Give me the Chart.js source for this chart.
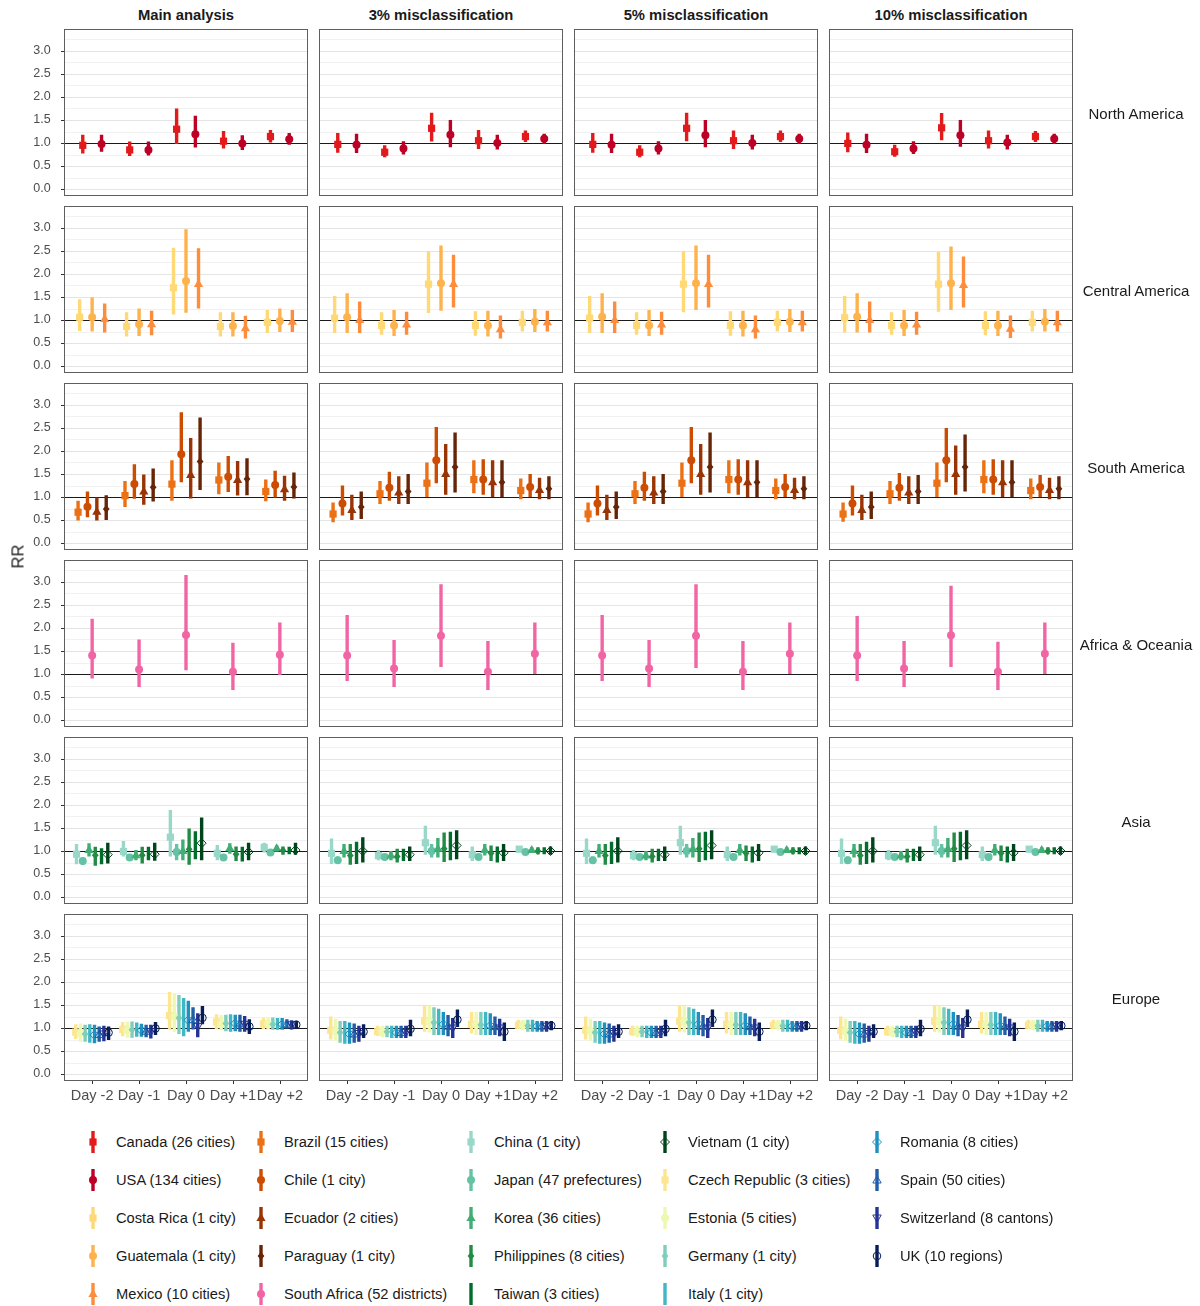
<!DOCTYPE html>
<html>
<head>
<meta charset="utf-8">
<script src="https://cdn.jsdelivr.net/npm/chart.js@4.4.1/dist/chart.umd.min.js"></script>
<style>
  html, body { margin: 0; padding: 0; background: #ffffff; }
  #wrap { position: relative; width: 1200px; height: 1306px; overflow: hidden;
          font-family: "Liberation Sans", Arial, sans-serif; color: #1a1a1a; }
  .ctitle { position: absolute; top: 7px; width: 244px; text-align: center;
            font-weight: bold; font-size: 14.8px; line-height: 17px; }
  .rtitle { position: absolute; left: 1066px; width: 140px; text-align: center;
            font-size: 15px; line-height: 17px; }
  .ytitle { position: absolute; left: -2px; top: 547px; width: 40px; text-align: center;
            font-size: 16.5px; transform: rotate(-90deg); }
  .lgitem { position: absolute; height: 30px; }
  .lgitem canvas { position: absolute; left: 0; top: 0; }
  .lgitem span { position: absolute; left: 34px; top: 6px; font-size: 14.7px; line-height: 18px; white-space: nowrap; }
</style>
</head>
<body>
<div id="wrap"></div>
<script>
// ---- categories ----
const days = ['Day -2', 'Day -1', 'Day 0', 'Day +1', 'Day +2'];
const analyses = ['Main analysis', '3% misclassification', '5% misclassification', '10% misclassification'];
const regions = ['North America', 'Central America', 'South America', 'Africa & Oceania', 'Asia', 'Europe'];

// ---- RR estimates: [analysis][day] = [RR, lower CI, upper CI] ----
const canada = [
  [[0.95,0.77,1.18],[0.85,0.72,1.03],[1.30,0.98,1.75],[1.04,0.88,1.26],[1.14,1.01,1.28]],
  [[0.97,0.79,1.22],[0.80,0.69,0.95],[1.32,1.03,1.66],[1.05,0.87,1.28],[1.14,1.02,1.27]],
  [[0.97,0.79,1.22],[0.80,0.69,0.95],[1.32,1.04,1.66],[1.05,0.87,1.27],[1.14,1.02,1.27]],
  [[0.99,0.80,1.23],[0.81,0.70,0.96],[1.33,1.06,1.65],[1.05,0.88,1.27],[1.14,1.02,1.26]]
];
const usa = [
  [[0.98,0.81,1.18],[0.85,0.73,1.03],[1.19,0.90,1.59],[0.99,0.85,1.17],[1.08,0.96,1.22]],
  [[0.96,0.78,1.20],[0.88,0.75,1.04],[1.18,0.91,1.50],[1.00,0.86,1.18],[1.09,0.98,1.20]],
  [[0.96,0.78,1.20],[0.88,0.75,1.04],[1.17,0.91,1.50],[1.00,0.86,1.18],[1.09,0.98,1.20]],
  [[0.96,0.78,1.20],[0.88,0.76,1.04],[1.17,0.92,1.50],[1.01,0.86,1.18],[1.09,0.98,1.20]]
];
const costaRica = [
  [[1.06,0.76,1.45],[0.86,0.64,1.17],[1.70,1.12,2.57],[0.86,0.64,1.17],[0.95,0.72,1.22]],
  [[1.04,0.72,1.52],[0.88,0.68,1.17],[1.78,1.15,2.50],[0.88,0.66,1.19],[0.95,0.75,1.20]],
  [[1.04,0.72,1.52],[0.88,0.68,1.17],[1.78,1.17,2.50],[0.88,0.66,1.19],[0.95,0.75,1.20]],
  [[1.05,0.73,1.52],[0.88,0.68,1.17],[1.78,1.18,2.48],[0.88,0.67,1.19],[0.95,0.75,1.20]]
];
const guatemala = [
  [[1.06,0.75,1.49],[0.91,0.65,1.25],[1.85,1.16,2.97],[0.87,0.64,1.17],[0.98,0.74,1.25]],
  [[1.06,0.72,1.58],[0.88,0.65,1.22],[1.80,1.20,2.62],[0.88,0.64,1.20],[0.96,0.74,1.24]],
  [[1.07,0.72,1.58],[0.88,0.65,1.22],[1.80,1.22,2.62],[0.88,0.64,1.20],[0.96,0.74,1.24]],
  [[1.07,0.73,1.58],[0.88,0.65,1.22],[1.80,1.22,2.60],[0.88,0.65,1.20],[0.96,0.75,1.24]]
];
const mexico = [
  [[1.02,0.73,1.36],[0.91,0.67,1.20],[1.78,1.25,2.56],[0.82,0.60,1.09],[0.96,0.74,1.22]],
  [[1.00,0.72,1.40],[0.90,0.68,1.18],[1.78,1.27,2.42],[0.80,0.60,1.10],[0.95,0.75,1.20]],
  [[1.00,0.72,1.40],[0.90,0.68,1.18],[1.78,1.27,2.42],[0.80,0.60,1.10],[0.95,0.75,1.20]],
  [[1.00,0.73,1.40],[0.90,0.68,1.18],[1.76,1.27,2.38],[0.81,0.61,1.10],[0.95,0.75,1.20]]
];
const brazil = [
  [[0.67,0.49,0.92],[1.03,0.78,1.35],[1.28,0.92,1.80],[1.37,1.06,1.75],[1.12,0.91,1.38]],
  [[0.63,0.45,0.88],[1.07,0.85,1.35],[1.30,1.00,1.75],[1.38,1.08,1.80],[1.14,0.95,1.40]],
  [[0.63,0.45,0.88],[1.07,0.85,1.35],[1.30,1.00,1.75],[1.38,1.08,1.80],[1.14,0.95,1.40]],
  [[0.63,0.46,0.88],[1.07,0.85,1.35],[1.30,1.00,1.75],[1.38,1.08,1.80],[1.14,0.95,1.40]]
];
const chile = [
  [[0.79,0.56,1.12],[1.28,0.96,1.71],[1.93,1.32,2.84],[1.44,1.11,1.89],[1.26,0.99,1.57]],
  [[0.86,0.60,1.25],[1.20,0.92,1.55],[1.80,1.30,2.52],[1.38,1.05,1.82],[1.22,1.00,1.50]],
  [[0.86,0.60,1.25],[1.20,0.92,1.55],[1.80,1.30,2.52],[1.38,1.05,1.82],[1.22,1.00,1.50]],
  [[0.86,0.60,1.25],[1.20,0.92,1.52],[1.80,1.32,2.50],[1.38,1.05,1.82],[1.22,1.00,1.48]]
];
const ecuador = [
  [[0.68,0.49,0.99],[1.12,0.83,1.49],[1.48,0.97,2.28],[1.37,1.03,1.78],[1.17,0.92,1.46]],
  [[0.72,0.50,1.05],[1.10,0.85,1.45],[1.50,1.05,2.15],[1.32,1.00,1.80],[1.15,0.95,1.42]],
  [[0.72,0.50,1.05],[1.10,0.85,1.45],[1.50,1.05,2.15],[1.32,1.00,1.80],[1.15,0.95,1.42]],
  [[0.72,0.50,1.05],[1.10,0.85,1.45],[1.50,1.05,2.12],[1.32,1.00,1.80],[1.15,0.95,1.42]]
];
const paraguay = [
  [[0.74,0.50,1.04],[1.21,0.90,1.62],[1.77,1.15,2.73],[1.39,1.04,1.84],[1.22,0.97,1.53]],
  [[0.78,0.52,1.12],[1.12,0.85,1.50],[1.65,1.10,2.40],[1.32,1.00,1.80],[1.18,0.95,1.45]],
  [[0.78,0.52,1.12],[1.12,0.85,1.50],[1.65,1.10,2.40],[1.32,1.00,1.80],[1.18,0.95,1.45]],
  [[0.78,0.52,1.12],[1.12,0.85,1.48],[1.65,1.12,2.36],[1.32,1.00,1.80],[1.18,0.95,1.45]]
];
const southAfrica = [
  [[1.40,0.90,2.20],[1.10,0.72,1.75],[1.85,1.08,3.15],[1.05,0.65,1.68],[1.42,0.98,2.12]],
  [[1.40,0.85,2.28],[1.12,0.72,1.74],[1.83,1.15,2.95],[1.05,0.65,1.72],[1.44,1.00,2.12]],
  [[1.40,0.85,2.28],[1.12,0.72,1.74],[1.83,1.13,2.95],[1.05,0.65,1.72],[1.44,1.00,2.12]],
  [[1.40,0.85,2.26],[1.12,0.72,1.72],[1.84,1.15,2.92],[1.05,0.65,1.70],[1.44,1.00,2.12]]
];
const china = [
  [[0.93,0.71,1.15],[0.99,0.88,1.22],[1.30,0.88,1.89],[0.95,0.80,1.13],[1.08,0.97,1.18]],
  [[0.95,0.72,1.27],[0.90,0.80,1.02],[1.18,0.92,1.55],[0.92,0.78,1.10],[1.04,0.97,1.10]],
  [[0.95,0.72,1.27],[0.90,0.80,1.02],[1.18,0.92,1.55],[0.92,0.78,1.10],[1.04,0.97,1.10]],
  [[0.95,0.72,1.27],[0.90,0.80,1.02],[1.18,0.92,1.55],[0.92,0.78,1.10],[1.04,0.97,1.10]]
];
const japan = [
  [[0.78,0.70,0.86],[0.86,0.80,0.92],[0.98,0.80,1.15],[0.86,0.79,0.93],[0.97,0.92,1.02]],
  [[0.80,0.73,0.88],[0.87,0.82,0.93],[1.00,0.86,1.15],[0.87,0.80,0.94],[0.98,0.94,1.02]],
  [[0.80,0.73,0.88],[0.87,0.82,0.93],[1.00,0.86,1.15],[0.87,0.80,0.94],[0.98,0.94,1.02]],
  [[0.80,0.73,0.88],[0.87,0.82,0.93],[1.00,0.86,1.15],[0.87,0.80,0.94],[0.98,0.94,1.02]]
];
const korea = [
  [[1.02,0.88,1.17],[0.91,0.80,1.02],[1.00,0.80,1.25],[1.06,0.94,1.17],[1.06,0.99,1.12]],
  [[1.00,0.86,1.15],[0.90,0.80,1.00],[1.05,0.86,1.28],[1.02,0.90,1.15],[1.02,0.96,1.08]],
  [[1.00,0.86,1.15],[0.90,0.80,1.00],[1.05,0.86,1.28],[1.02,0.90,1.15],[1.02,0.96,1.08]],
  [[1.00,0.86,1.15],[0.90,0.80,1.00],[1.05,0.86,1.28],[1.02,0.90,1.15],[1.02,0.96,1.08]]
];
const philippines = [
  [[0.91,0.68,1.09],[0.91,0.73,1.09],[1.04,0.70,1.49],[0.93,0.78,1.10],[1.01,0.92,1.10]],
  [[0.90,0.70,1.15],[0.88,0.75,1.05],[1.05,0.76,1.40],[0.95,0.78,1.12],[1.00,0.93,1.08]],
  [[0.90,0.70,1.15],[0.88,0.75,1.05],[1.05,0.76,1.40],[0.95,0.78,1.12],[1.00,0.93,1.08]],
  [[0.90,0.70,1.15],[0.88,0.75,1.05],[1.05,0.76,1.40],[0.95,0.78,1.12],[1.00,0.93,1.08]]
];
const taiwan = [
  [[0.88,0.71,1.06],[0.93,0.80,1.09],[1.10,0.82,1.43],[0.93,0.77,1.09],[1.01,0.93,1.09]],
  [[0.93,0.72,1.20],[0.90,0.78,1.05],[1.10,0.80,1.42],[0.93,0.75,1.10],[1.00,0.93,1.08]],
  [[0.93,0.72,1.20],[0.90,0.78,1.05],[1.10,0.80,1.42],[0.93,0.75,1.10],[1.00,0.93,1.08]],
  [[0.93,0.72,1.20],[0.90,0.78,1.05],[1.10,0.80,1.42],[0.93,0.75,1.10],[1.00,0.93,1.08]]
];
const vietnam = [
  [[0.92,0.73,1.18],[0.93,0.79,1.18],[1.17,0.80,1.73],[0.98,0.80,1.18],[1.02,0.92,1.18]],
  [[1.00,0.75,1.30],[0.92,0.78,1.10],[1.12,0.82,1.45],[0.96,0.78,1.15],[1.00,0.92,1.10]],
  [[1.00,0.75,1.30],[0.92,0.78,1.10],[1.12,0.82,1.45],[0.96,0.78,1.15],[1.00,0.92,1.10]],
  [[1.00,0.75,1.30],[0.92,0.78,1.10],[1.12,0.82,1.45],[0.96,0.78,1.15],[1.00,0.92,1.10]]
];
const czech = [
  [[0.91,0.76,1.08],[0.97,0.82,1.13],[1.27,0.96,1.78],[1.13,0.97,1.30],[1.09,0.98,1.22]],
  [[0.95,0.75,1.25],[0.92,0.83,1.05],[1.15,0.92,1.48],[1.08,0.88,1.35],[1.06,0.98,1.18]],
  [[0.95,0.75,1.25],[0.92,0.83,1.05],[1.15,0.92,1.48],[1.08,0.88,1.35],[1.06,0.98,1.18]],
  [[0.95,0.75,1.25],[0.92,0.83,1.05],[1.15,0.92,1.48],[1.08,0.88,1.35],[1.06,0.98,1.18]]
];
const estonia = [
  [[0.88,0.70,1.10],[0.95,0.79,1.14],[1.25,0.92,1.75],[1.08,0.95,1.28],[1.09,0.97,1.22]],
  [[0.93,0.72,1.20],[0.92,0.80,1.05],[1.14,0.90,1.48],[1.07,0.85,1.35],[1.06,0.95,1.18]],
  [[0.93,0.72,1.20],[0.92,0.80,1.05],[1.14,0.90,1.48],[1.07,0.85,1.35],[1.06,0.95,1.18]],
  [[0.93,0.72,1.20],[0.92,0.80,1.05],[1.14,0.90,1.48],[1.07,0.85,1.35],[1.06,0.95,1.18]]
];
const germany = [
  [[0.87,0.70,1.07],[0.96,0.79,1.14],[1.22,0.87,1.72],[1.10,0.93,1.29],[1.08,0.96,1.23]],
  [[0.90,0.68,1.15],[0.92,0.80,1.05],[1.12,0.85,1.45],[1.07,0.85,1.35],[1.05,0.92,1.18]],
  [[0.90,0.68,1.15],[0.92,0.80,1.05],[1.12,0.85,1.45],[1.07,0.85,1.35],[1.05,0.92,1.18]],
  [[0.90,0.68,1.15],[0.92,0.80,1.05],[1.12,0.85,1.45],[1.07,0.85,1.35],[1.05,0.92,1.18]]
];
const italy = [
  [[0.87,0.68,1.08],[0.94,0.81,1.12],[1.18,0.82,1.65],[1.10,0.92,1.30],[1.08,0.96,1.22]],
  [[0.88,0.66,1.15],[0.90,0.78,1.05],[1.10,0.85,1.42],[1.06,0.85,1.35],[1.05,0.92,1.18]],
  [[0.88,0.66,1.15],[0.90,0.78,1.05],[1.10,0.85,1.42],[1.06,0.85,1.35],[1.05,0.92,1.18]],
  [[0.88,0.66,1.15],[0.90,0.78,1.05],[1.10,0.85,1.42],[1.06,0.85,1.35],[1.05,0.92,1.18]]
];
const romania = [
  [[0.85,0.67,1.07],[0.95,0.81,1.09],[1.17,0.92,1.59],[1.10,0.93,1.29],[1.08,0.96,1.22]],
  [[0.87,0.66,1.12],[0.90,0.78,1.05],[1.08,0.85,1.35],[1.05,0.85,1.32],[1.04,0.92,1.15]],
  [[0.87,0.66,1.12],[0.90,0.78,1.05],[1.08,0.85,1.35],[1.05,0.85,1.32],[1.04,0.92,1.15]],
  [[0.87,0.66,1.12],[0.90,0.78,1.05],[1.08,0.85,1.35],[1.05,0.85,1.32],[1.04,0.92,1.15]]
];
const spain = [
  [[0.86,0.70,1.03],[0.93,0.80,1.07],[1.18,0.97,1.45],[1.09,0.92,1.29],[1.08,0.99,1.19]],
  [[0.87,0.68,1.10],[0.90,0.78,1.05],[1.04,0.82,1.28],[1.03,0.85,1.25],[1.04,0.92,1.15]],
  [[0.87,0.68,1.10],[0.90,0.78,1.05],[1.04,0.82,1.28],[1.03,0.85,1.25],[1.04,0.92,1.15]],
  [[0.87,0.68,1.10],[0.90,0.78,1.05],[1.04,0.82,1.28],[1.03,0.85,1.25],[1.04,0.92,1.15]]
];
const switzerland = [
  [[0.87,0.71,1.05],[0.92,0.77,1.07],[1.03,0.80,1.32],[1.08,0.92,1.26],[1.07,0.97,1.17]],
  [[0.88,0.70,1.05],[0.90,0.78,1.05],[1.00,0.78,1.22],[1.00,0.82,1.20],[1.04,0.92,1.15]],
  [[0.88,0.70,1.05],[0.90,0.78,1.05],[1.00,0.78,1.22],[1.00,0.82,1.20],[1.04,0.92,1.15]],
  [[0.88,0.70,1.05],[0.90,0.78,1.05],[1.00,0.78,1.22],[1.00,0.82,1.20],[1.04,0.92,1.15]]
];
const uk = [
  [[0.90,0.74,1.03],[0.99,0.85,1.13],[1.22,1.08,1.48],[1.03,0.87,1.19],[1.07,0.99,1.16]],
  [[0.92,0.78,1.08],[0.98,0.82,1.18],[1.18,1.02,1.40],[0.92,0.72,1.12],[1.05,0.95,1.15]],
  [[0.92,0.78,1.08],[0.98,0.82,1.18],[1.18,1.02,1.40],[0.92,0.72,1.12],[1.05,0.95,1.15]],
  [[0.92,0.78,1.08],[0.98,0.82,1.18],[1.18,1.02,1.40],[0.92,0.72,1.12],[1.05,0.95,1.15]]
];

// ---- countries, in legend order ----
const countryLabels = [
  'Canada (26 cities)', 'USA (134 cities)', 'Costa Rica (1 city)', 'Guatemala (1 city)', 'Mexico (10 cities)',
  'Brazil (15 cities)', 'Chile (1 city)', 'Ecuador (2 cities)', 'Paraguay (1 city)', 'South Africa (52 districts)',
  'China (1 city)', 'Japan (47 prefectures)', 'Korea (36 cities)', 'Philippines (8 cities)', 'Taiwan (3 cities)',
  'Vietnam (1 city)', 'Czech Republic (3 cities)', 'Estonia (5 cities)', 'Germany (1 city)', 'Italy (1 city)',
  'Romania (8 cities)', 'Spain (50 cities)', 'Switzerland (8 cantons)', 'UK (10 regions)'
];
const countrySeries = [
  canada, usa, costaRica, guatemala, mexico,
  brazil, chile, ecuador, paraguay, southAfrica,
  china, japan, korea, philippines, taiwan,
  vietnam, czech, estonia, germany, italy,
  romania, spain, switzerland, uk
];
// countries drawn in each region panel row
const regionMembers = [
  [0, 1], [2, 3, 4], [5, 6, 7, 8], [9],
  [10, 11, 12, 13, 14, 15],
  [16, 17, 18, 19, 20, 21, 22, 23]
];

// ---- styling ----
const countryColors = [
  '#E31A1C', '#BD0026', '#FED976', '#FEB24C', '#FD8D3C',
  '#EC7014', '#CC4C02', '#993404', '#662506', '#F165A5',
  '#99D8C9', '#66C2A4', '#41AE76', '#238B45', '#006D2C',
  '#00441B', '#FDE591', '#EDF8B1', '#7FCDBB', '#41B6C4',
  '#1D91C0', '#225EA8', '#253494', '#081D58'
];
const countryShapes = [
  'square', 'circle', 'square', 'circle', 'triangle',
  'square', 'circle', 'triangle', 'diamond', 'circle',
  'square', 'circle', 'triangle', 'diamond', 'none',
  'openDiamond', 'square', 'circle', 'diamond', 'none',
  'openDiamond', 'openTriangle', 'openDown', 'openCircle'
];

Chart.defaults.font.family = '"Liberation Sans", Arial, sans-serif';

const wrap = document.getElementById('wrap');
const FRAME_LEFT = [64, 319, 574, 829];
const FRAME_TOP = 29, ROW_STEP = 177, FW = 244, FH = 167;
// category scale spans 0.5..5.5, panel spans 0.4..5.6
const INSET = FW * 0.1 / 5.2;

function drawMarker(ctx, shape, x, y, color) {
  if (shape === 'none') return;
  ctx.save();
  ctx.fillStyle = color;
  ctx.strokeStyle = color;
  ctx.lineWidth = 1;
  ctx.beginPath();
  switch (shape) {
    case 'square': ctx.rect(x - 3.6, y - 3.6, 7.2, 7.2); ctx.fill(); break;
    case 'circle': ctx.arc(x, y, 4, 0, Math.PI * 2); ctx.fill(); break;
    case 'triangle':
      ctx.moveTo(x, y - 5); ctx.lineTo(x + 4.6, y + 3); ctx.lineTo(x - 4.6, y + 3); ctx.closePath(); ctx.fill(); break;
    case 'diamond':
      ctx.moveTo(x, y - 4); ctx.lineTo(x + 3.4, y); ctx.lineTo(x, y + 4); ctx.lineTo(x - 3.4, y); ctx.closePath(); ctx.fill(); break;
    case 'openDiamond':
      ctx.moveTo(x, y - 4.5); ctx.lineTo(x + 4.5, y); ctx.lineTo(x, y + 4.5); ctx.lineTo(x - 4.5, y); ctx.closePath(); ctx.stroke(); break;
    case 'openTriangle':
      ctx.moveTo(x, y - 4.5); ctx.lineTo(x + 4.2, y + 3); ctx.lineTo(x - 4.2, y + 3); ctx.closePath(); ctx.stroke(); break;
    case 'openDown':
      ctx.moveTo(x, y + 4.5); ctx.lineTo(x + 4.2, y - 3); ctx.lineTo(x - 4.2, y - 3); ctx.closePath(); ctx.stroke(); break;
    case 'openCircle': ctx.arc(x, y, 3.8, 0, Math.PI * 2); ctx.stroke(); break;
  }
  ctx.restore();
}

// frame, gridlines, reference line, tick marks and point markers of one panel
function panelDecor(r, c) {
  return {
    id: 'panelDecor',
    beforeDatasetsDraw(chart) {
      const { ctx, chartArea: a, scales: { y } } = chart;
      const L = a.left - INSET, R = a.right + INSET;
      ctx.save();
      ctx.lineWidth = 1;
      y.ticks.forEach(t => {
        const ym = Math.round(y.getPixelForValue(t.value + 0.25)) + 0.5;
        ctx.strokeStyle = '#F1F1F1';
        ctx.beginPath(); ctx.moveTo(L, ym); ctx.lineTo(R, ym); ctx.stroke();
        const yp = Math.round(y.getPixelForValue(t.value)) + 0.5;
        ctx.strokeStyle = '#E4E4E4';
        ctx.beginPath(); ctx.moveTo(L, yp); ctx.lineTo(R, yp); ctx.stroke();
      });
      const y1 = Math.round(y.getPixelForValue(1)) + 0.5;
      ctx.strokeStyle = '#1a1a1a';
      ctx.beginPath(); ctx.moveTo(L, y1); ctx.lineTo(R, y1); ctx.stroke();
      ctx.restore();
    },
    afterDatasetsDraw(chart) {
      const { ctx, chartArea: a, scales: { x, y } } = chart;
      chart.data.datasets.forEach((ds, i) => {
        const meta = chart.getDatasetMeta(i);
        meta.data.forEach((bar, j) => {
          drawMarker(ctx, ds.shape, bar.x, y.getPixelForValue(ds.est[j]), ds.backgroundColor);
        });
      });
      const L = a.left - INSET, R = a.right + INSET;
      ctx.save();
      ctx.strokeStyle = '#5e5e5e';
      ctx.lineWidth = 1;
      ctx.strokeRect(Math.round(L) + 0.5, Math.round(a.top) + 0.5, Math.round(R - L) - 1, Math.round(a.bottom - a.top) - 1);
      ctx.strokeStyle = '#333333';
      if (c === 0) {
        y.ticks.forEach(t => {
          const yp = Math.round(y.getPixelForValue(t.value)) + 0.5;
          ctx.beginPath(); ctx.moveTo(Math.round(L) - 3, yp); ctx.lineTo(Math.round(L), yp); ctx.stroke();
        });
      }
      if (r === regions.length - 1) {
        x.ticks.forEach((t, k) => {
          const xp = Math.round(x.getPixelForTick(k)) + 0.5;
          ctx.beginPath(); ctx.moveTo(xp, Math.round(a.bottom)); ctx.lineTo(xp, Math.round(a.bottom) + 3); ctx.stroke();
        });
      }
      ctx.restore();
    }
  };
}

regions.forEach((region, r) => {
  analyses.forEach((analysis, c) => {
    const padL = c === 0 ? 64 : 8, padR = 6, padT = 4, padB = r === regions.length - 1 ? 32 : 6;
    const W = FW + padL + padR, H = FH + padT + padB;
    const cv = document.createElement('canvas');
    cv.width = W; cv.height = H;
    cv.style.cssText = `position:absolute;left:${FRAME_LEFT[c] - padL}px;top:${FRAME_TOP + ROW_STEP * r - padT}px;width:${W}px;height:${H}px;`;
    wrap.appendChild(cv);

    const datasets = regionMembers[r].map(k => ({
      label: countryLabels[k],
      data: countrySeries[k][c].map(v => [v[1], v[2]]),
      est: countrySeries[k][c].map(v => v[0]),
      shape: countryShapes[k],
      backgroundColor: countryColors[k],
      borderWidth: 0,
      borderSkipped: false,
      categoryPercentage: 0.8,
      barPercentage: 1,
      maxBarThickness: 3.4
    }));

    new Chart(cv, {
      type: 'bar',
      data: { labels: days, datasets },
      options: {
        responsive: false,
        animation: false,
        devicePixelRatio: 1,
        layout: { padding: { left: 0, right: padR + INSET, top: padT, bottom: 0 } },
        plugins: { legend: { display: false }, tooltip: { enabled: false } },
        scales: {
          x: {
            type: 'category', offset: true,
            grid: { display: false, drawTicks: false }, border: { display: false },
            ticks: { display: r === regions.length - 1, autoSkip: false, maxRotation: 0, minRotation: 0,
                     padding: 6, color: '#4d4d4d', font: { size: 14.5 } },
            afterFit(s) { s.height = padB; s.paddingLeft = 0; s.paddingRight = 0; }
          },
          y: {
            type: 'linear', min: -0.152, max: 3.478,
            grid: { display: false, drawTicks: false }, border: { display: false },
            ticks: { display: c === 0, stepSize: 0.5, includeBounds: false, padding: 18,
                     color: '#4d4d4d', font: { size: 12.5 }, callback: v => Number(v).toFixed(1) },
            afterFit(s) { s.width = padL + INSET; s.paddingTop = 0; s.paddingBottom = 0; }
          }
        }
      },
      plugins: [panelDecor(r, c)]
    });
  });
});

// facet strip texts
analyses.forEach((a, c) => {
  const d = document.createElement('div');
  d.className = 'ctitle';
  d.style.left = FRAME_LEFT[c] + 'px';
  d.textContent = a;
  wrap.appendChild(d);
});
regions.forEach((g, r) => {
  const d = document.createElement('div');
  d.className = 'rtitle';
  d.style.top = (FRAME_TOP + ROW_STEP * r + FH / 2 - 8) + 'px';
  d.textContent = g;
  wrap.appendChild(d);
});
const yt = document.createElement('div');
yt.className = 'ytitle';
yt.textContent = 'RR';
wrap.appendChild(yt);

// legend: five columns, five rows
const LG_X = [82, 250, 460, 654, 866];
const LG_Y0 = 1127, LG_DY = 38;
countryLabels.forEach((label, k) => {
  const col = Math.floor(k / 5), row = k % 5;
  const item = document.createElement('div');
  item.className = 'lgitem';
  item.style.left = LG_X[col] + 'px';
  item.style.top = (LG_Y0 + row * LG_DY) + 'px';
  const g = document.createElement('canvas');
  g.width = 22; g.height = 30;
  const ctx = g.getContext('2d');
  ctx.fillStyle = countryColors[k];
  ctx.fillRect(9.3, 4, 3.4, 22);
  drawMarker(ctx, countryShapes[k], 11, 15, countryColors[k]);
  item.appendChild(g);
  const s = document.createElement('span');
  s.textContent = label;
  item.appendChild(s);
  wrap.appendChild(item);
});
</script>
</body>
</html>
